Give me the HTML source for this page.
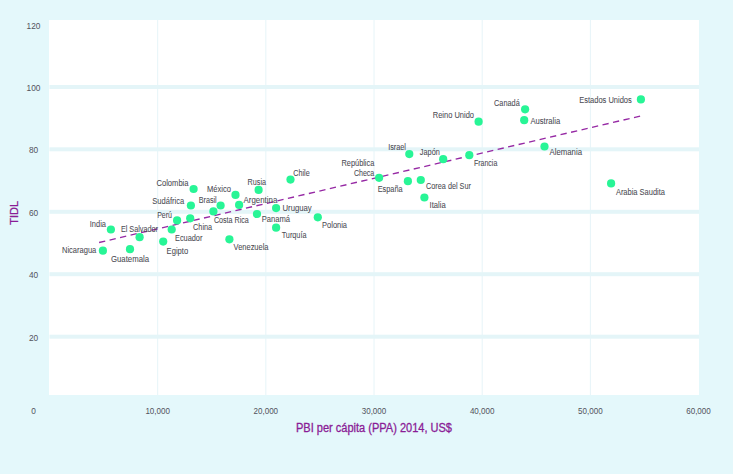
<!DOCTYPE html>
<html><head><meta charset="utf-8"><style>
html,body{margin:0;padding:0;background:#e4f8fb;width:733px;height:474px;overflow:hidden}
svg{display:block}
text{font-family:"Liberation Sans", sans-serif;font-size:8.4px;fill:#4a4a52;stroke:#4a4a52;stroke-width:0.06px}
text.ax{font-size:8.3px;fill:#52525c;stroke:none}
text.ttl{font-size:12px;fill:#8a1c96;stroke:#8a1c96;stroke-width:0.3px}
text.ttl2{font-size:11.6px;fill:#8a1c96;stroke:#8a1c96;stroke-width:0.3px}
</style></head><body>
<svg width="733" height="474" viewBox="0 0 733 474">
<rect width="733" height="474" fill="#e4f8fb"/>
<rect x="49" y="20" width="650" height="375" fill="#ffffff"/>
<rect x="157.17" y="20" width="1" height="375" fill="#e6f4f8"/>
<rect x="265.34" y="20" width="1" height="375" fill="#e6f4f8"/>
<rect x="373.51" y="20" width="1" height="375" fill="#e6f4f8"/>
<rect x="481.68" y="20" width="1" height="375" fill="#e6f4f8"/>
<rect x="589.85" y="20" width="1" height="375" fill="#e6f4f8"/>
<rect x="49.5" y="85.0" width="649.5" height="4" fill="#e4f5f8"/>
<rect x="49.5" y="147.3" width="649.5" height="4" fill="#e4f5f8"/>
<rect x="49.5" y="209.8" width="649.5" height="4" fill="#e4f5f8"/>
<rect x="49.5" y="272.2" width="649.5" height="4" fill="#e4f5f8"/>
<rect x="49.5" y="334.7" width="649.5" height="4" fill="#e4f5f8"/>
<line x1="99.1" y1="242.5" x2="640.2" y2="116.1" stroke="#9629a4" stroke-width="1.35" stroke-dasharray="6.3 4.47"/>
<circle cx="110.9" cy="229.50" r="4.1" fill="#28f596"/>
<circle cx="139.6" cy="237.20" r="4.1" fill="#28f596"/>
<circle cx="102.9" cy="250.70" r="4.1" fill="#28f596"/>
<circle cx="130" cy="249.20" r="4.1" fill="#28f596"/>
<circle cx="163.2" cy="241.60" r="4.1" fill="#28f596"/>
<circle cx="171.7" cy="229.50" r="4.1" fill="#28f596"/>
<circle cx="177.1" cy="220.40" r="4.1" fill="#28f596"/>
<circle cx="190.2" cy="218.30" r="4.1" fill="#28f596"/>
<circle cx="190.9" cy="205.50" r="4.1" fill="#28f596"/>
<circle cx="193.6" cy="189.00" r="4.1" fill="#28f596"/>
<circle cx="213.4" cy="211.40" r="4.1" fill="#28f596"/>
<circle cx="220.6" cy="205.50" r="4.1" fill="#28f596"/>
<circle cx="229.4" cy="239.30" r="4.1" fill="#28f596"/>
<circle cx="235.5" cy="194.90" r="4.1" fill="#28f596"/>
<circle cx="239.1" cy="204.90" r="4.1" fill="#28f596"/>
<circle cx="257" cy="214.00" r="4.1" fill="#28f596"/>
<circle cx="258.6" cy="189.90" r="4.1" fill="#28f596"/>
<circle cx="276.1" cy="208.10" r="4.1" fill="#28f596"/>
<circle cx="276.1" cy="227.70" r="4.1" fill="#28f596"/>
<circle cx="290.5" cy="179.60" r="4.1" fill="#28f596"/>
<circle cx="317.8" cy="217.30" r="4.1" fill="#28f596"/>
<circle cx="379.1" cy="177.80" r="4.1" fill="#28f596"/>
<circle cx="407.9" cy="181.20" r="4.1" fill="#28f596"/>
<circle cx="409.3" cy="154.10" r="4.1" fill="#28f596"/>
<circle cx="420.8" cy="180.00" r="4.1" fill="#28f596"/>
<circle cx="424.4" cy="197.50" r="4.1" fill="#28f596"/>
<circle cx="443.2" cy="159.20" r="4.1" fill="#28f596"/>
<circle cx="469.3" cy="155.20" r="4.1" fill="#28f596"/>
<circle cx="478.6" cy="121.70" r="4.1" fill="#28f596"/>
<circle cx="524.2" cy="120.20" r="4.1" fill="#28f596"/>
<circle cx="525.1" cy="109.30" r="4.1" fill="#28f596"/>
<circle cx="544.5" cy="146.50" r="4.1" fill="#28f596"/>
<circle cx="611.1" cy="183.40" r="4.1" fill="#28f596"/>
<circle cx="640.9" cy="99.40" r="4.1" fill="#28f596"/>
<text x="89.8" y="227" textLength="16.2" lengthAdjust="spacingAndGlyphs">India</text>
<text x="120.9" y="232" textLength="37.1" lengthAdjust="spacingAndGlyphs">El Salvador</text>
<text x="62" y="253.1" textLength="34.3" lengthAdjust="spacingAndGlyphs">Nicaragua</text>
<text x="111" y="261.9" textLength="38.0" lengthAdjust="spacingAndGlyphs">Guatemala</text>
<text x="166.6" y="254.4" textLength="21.6" lengthAdjust="spacingAndGlyphs">Egipto</text>
<text x="175" y="241.3" textLength="27.4" lengthAdjust="spacingAndGlyphs">Ecuador</text>
<text x="157.2" y="217.9" textLength="14.8" lengthAdjust="spacingAndGlyphs">Perú</text>
<text x="193.1" y="229.9" textLength="19.1" lengthAdjust="spacingAndGlyphs">China</text>
<text x="152.3" y="204.4" textLength="31.9" lengthAdjust="spacingAndGlyphs">Sudáfrica</text>
<text x="156.5" y="185.5" textLength="32.0" lengthAdjust="spacingAndGlyphs">Colombia</text>
<text x="213.9" y="223.4" textLength="34.9" lengthAdjust="spacingAndGlyphs">Costa Rica</text>
<text x="198.7" y="203.0" textLength="18.0" lengthAdjust="spacingAndGlyphs">Brasil</text>
<text x="233.6" y="249.7" textLength="34.9" lengthAdjust="spacingAndGlyphs">Venezuela</text>
<text x="207" y="191.9" textLength="24.0" lengthAdjust="spacingAndGlyphs">México</text>
<text x="243.5" y="203.1" textLength="33.8" lengthAdjust="spacingAndGlyphs">Argentina</text>
<text x="261.7" y="222.0" textLength="28.4" lengthAdjust="spacingAndGlyphs">Panamá</text>
<text x="247.6" y="185.1" textLength="18.4" lengthAdjust="spacingAndGlyphs">Rusia</text>
<text x="282.5" y="211.0" textLength="29.2" lengthAdjust="spacingAndGlyphs">Uruguay</text>
<text x="281.7" y="237.6" textLength="24.8" lengthAdjust="spacingAndGlyphs">Turquía</text>
<text x="293.3" y="175.5" textLength="16.4" lengthAdjust="spacingAndGlyphs">Chile</text>
<text x="322.1" y="227.7" textLength="24.9" lengthAdjust="spacingAndGlyphs">Polonia</text>
<text x="341.5" y="166.1" textLength="32.8" lengthAdjust="spacingAndGlyphs">República</text>
<text x="353.9" y="175.7" textLength="20.4" lengthAdjust="spacingAndGlyphs">Checa</text>
<text x="377.7" y="191.7" textLength="24.9" lengthAdjust="spacingAndGlyphs">España</text>
<text x="388.2" y="149.9" textLength="17.8" lengthAdjust="spacingAndGlyphs">Israel</text>
<text x="426.1" y="188.8" textLength="44.8" lengthAdjust="spacingAndGlyphs">Corea del Sur</text>
<text x="429.5" y="207.5" textLength="16.2" lengthAdjust="spacingAndGlyphs">Italia</text>
<text x="419.8" y="155" textLength="20.0" lengthAdjust="spacingAndGlyphs">Japón</text>
<text x="473.9" y="165.8" textLength="23.4" lengthAdjust="spacingAndGlyphs">Francia</text>
<text x="432.8" y="117.8" textLength="41.2" lengthAdjust="spacingAndGlyphs">Reino Unido</text>
<text x="530.4" y="124.2" textLength="29.8" lengthAdjust="spacingAndGlyphs">Australia</text>
<text x="494.1" y="106" textLength="25.6" lengthAdjust="spacingAndGlyphs">Canadá</text>
<text x="549.6" y="154.6" textLength="32.4" lengthAdjust="spacingAndGlyphs">Alemania</text>
<text x="615.9" y="195.3" textLength="49.1" lengthAdjust="spacingAndGlyphs">Arabia Saudita</text>
<text x="579.2" y="102.8" textLength="52.6" lengthAdjust="spacingAndGlyphs">Estados Unidos</text>
<text x="33.5" y="29.0" text-anchor="middle" class="ax">120</text>
<text x="33.5" y="90.9" text-anchor="middle" class="ax">100</text>
<text x="33.5" y="152.9" text-anchor="middle" class="ax">80</text>
<text x="33.5" y="215.9" text-anchor="middle" class="ax">60</text>
<text x="33.5" y="278.0" text-anchor="middle" class="ax">40</text>
<text x="33.5" y="340.5" text-anchor="middle" class="ax">20</text>
<text x="33.5" y="413.9" text-anchor="middle" class="ax">0</text>
<text x="157.7" y="414" text-anchor="middle" class="ax" textLength="24.6" lengthAdjust="spacingAndGlyphs">10,000</text>
<text x="265.8" y="414" text-anchor="middle" class="ax" textLength="24.6" lengthAdjust="spacingAndGlyphs">20,000</text>
<text x="374.0" y="414" text-anchor="middle" class="ax" textLength="24.6" lengthAdjust="spacingAndGlyphs">30,000</text>
<text x="482.2" y="414" text-anchor="middle" class="ax" textLength="24.6" lengthAdjust="spacingAndGlyphs">40,000</text>
<text x="590.4" y="414" text-anchor="middle" class="ax" textLength="24.6" lengthAdjust="spacingAndGlyphs">50,000</text>
<text x="698.5" y="414" text-anchor="middle" class="ax" textLength="24.6" lengthAdjust="spacingAndGlyphs">60,000</text>
<text x="374" y="431.7" text-anchor="middle" class="ttl" textLength="156" lengthAdjust="spacingAndGlyphs">PBI per cápita (PPA) 2014, US$</text>
<text transform="translate(18.2,212.8) rotate(-90)" text-anchor="middle" class="ttl2" textLength="23.7" lengthAdjust="spacingAndGlyphs">TIDL</text>
</svg></body></html>
